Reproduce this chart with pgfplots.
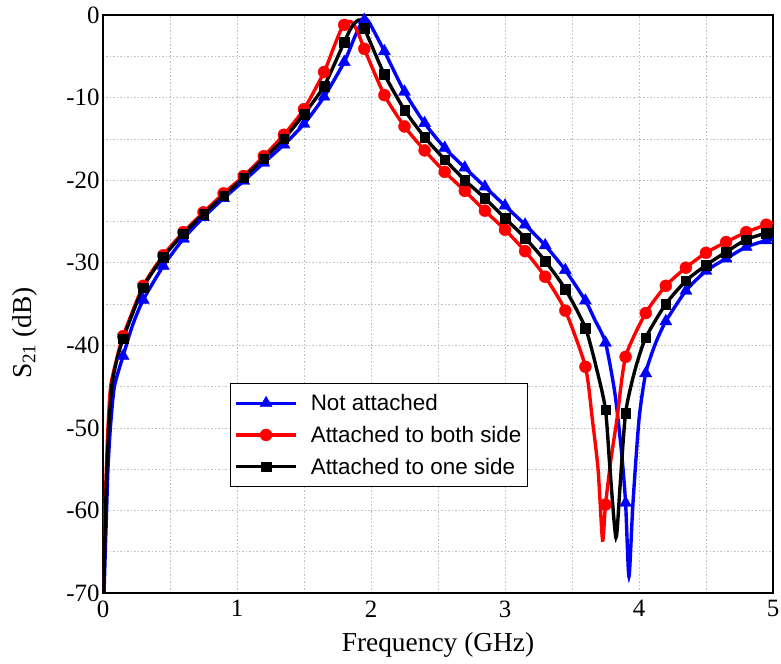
\documentclass[border=0pt]{standalone}
\usepackage{fontspec}
\setmainfont{Liberation Serif}
\newfontfamily\legendfont{Liberation Sans}
\usepackage{pgfplots}
\usepackage{pgfplotstable}
\pgfplotsset{compat=1.18}

% ---------- S21 curves (dense samples for the lines) ----------
\pgfplotstableread{
x y
0.004 -72
0.017 -65
0.027 -60
0.037 -55
0.055 -50
0.085 -45
0.15 -41.3
0.22 -37.6
0.30 -34.5
0.45 -30.4
0.60 -27.1
0.75 -24.5
0.90 -22.2
1.05 -20.1
1.20 -17.9
1.35 -15.7
1.50 -13.2
1.65 -9.9
1.80 -5.7
1.88 -2.6
1.93 -0.9
1.96 -0.4
1.99 -1.0
2.03 -2.2
2.10 -4.4
2.25 -9.3
2.40 -13.1
2.55 -16.1
2.70 -18.5
2.85 -20.8
3.00 -23.1
3.15 -25.4
3.30 -27.9
3.45 -30.9
3.60 -34.6
3.67 -36.9
3.75 -39.7
3.82 -45.8
3.87 -53.0
3.90 -59.1
3.925 -68.0
3.955 -59.1
4.00 -49.0
4.05 -43.4
4.12 -39.9
4.20 -37.1
4.35 -33.4
4.50 -31.0
4.65 -29.5
4.80 -28.1
4.95 -27.3
5.00 -27.1
}\notattached

\pgfplotstableread{
x y
0.002 -72
0.010 -65
0.015 -60
0.025 -55
0.037 -50
0.057 -45
0.10 -41.8
0.15 -38.9
0.30 -32.8
0.45 -29.1
0.60 -26.3
0.75 -23.9
0.90 -21.6
1.05 -19.5
1.20 -17.1
1.35 -14.5
1.50 -11.4
1.65 -6.9
1.72 -4.0
1.77 -2.0
1.80 -1.2
1.83 -0.8
1.86 -0.9
1.90 -2.0
1.95 -4.1
2.10 -9.7
2.25 -13.5
2.40 -16.4
2.55 -19.0
2.70 -21.3
2.85 -23.7
3.00 -26.0
3.15 -28.6
3.30 -31.7
3.45 -35.8
3.60 -42.6
3.652 -49.0
3.695 -55.1
3.728 -63.6
3.75 -59.3
3.79 -53.9
3.835 -49.0
3.90 -41.4
4.05 -36.1
4.20 -32.8
4.35 -30.6
4.50 -28.8
4.65 -27.5
4.80 -26.3
4.95 -25.4
5.00 -25.1
}\bothsides

\pgfplotstableread{
x y
0.002 -72
0.012 -65
0.019 -60
0.029 -55
0.043 -50
0.065 -45
0.10 -42.0
0.15 -39.2
0.30 -33.0
0.45 -29.3
0.60 -26.5
0.75 -24.1
0.90 -21.9
1.05 -19.7
1.20 -17.4
1.35 -15.0
1.50 -12.0
1.65 -8.6
1.80 -3.3
1.85 -1.6
1.89 -0.8
1.92 -0.6
1.95 -1.6
2.00 -3.5
2.10 -7.2
2.25 -11.5
2.40 -14.8
2.55 -17.5
2.70 -20.0
2.85 -22.2
3.00 -24.6
3.15 -27.0
3.30 -29.8
3.45 -33.2
3.60 -37.9
3.686 -43.0
3.75 -47.8
3.784 -55.1
3.828 -63.3
3.858 -57.2
3.90 -48.2
3.97 -43.0
4.05 -39.1
4.20 -35.0
4.35 -32.2
4.50 -30.3
4.65 -28.7
4.80 -27.2
4.95 -26.4
5.00 -26.1
}\oneside

% ---------- marker positions (every 0.15 GHz) ----------
\pgfplotstableread{
x a b c
0.15 -41.3 -38.9 -39.2
0.30 -34.5 -32.8 -33.0
0.45 -30.4 -29.1 -29.3
0.60 -27.1 -26.3 -26.5
0.75 -24.5 -23.9 -24.1
0.90 -22.2 -21.6 -21.9
1.05 -20.1 -19.5 -19.7
1.20 -17.9 -17.1 -17.4
1.35 -15.7 -14.5 -15.0
1.50 -13.2 -11.4 -12.0
1.65 -9.9 -6.9 -8.6
1.80 -5.7 -1.2 -3.3
1.95 -0.6 -4.1 -1.6
2.10 -4.4 -9.7 -7.2
2.25 -9.3 -13.5 -11.5
2.40 -13.1 -16.4 -14.8
2.55 -16.1 -19.0 -17.5
2.70 -18.5 -21.3 -20.0
2.85 -20.8 -23.7 -22.2
3.00 -23.1 -26.0 -24.6
3.15 -25.4 -28.6 -27.0
3.30 -27.9 -31.7 -29.8
3.45 -30.9 -35.8 -33.2
3.60 -34.6 -42.6 -37.9
3.75 -39.7 -59.3 -47.8
3.90 -59.1 -41.4 -48.2
4.05 -43.4 -36.1 -39.1
4.20 -37.1 -32.8 -35.0
4.35 -33.4 -30.6 -32.2
4.50 -31.0 -28.8 -30.3
4.65 -29.5 -27.5 -28.7
4.80 -28.1 -26.3 -27.2
4.95 -27.3 -25.4 -26.4
}\markers

\pgfplotsset{
  curve/.style={line width=3.4pt, smooth, tension=0.4, forget plot},
  blue marks/.style={blue, mark=triangle*, mark size=7pt, mark options={line width=0.4pt}},
  red marks/.style={red, mark=*, mark size=6pt, mark options={line width=0.4pt}},
  black marks/.style={black, mark=square*, mark size=4.8pt, mark options={line width=0.4pt}},
}

\begin{document}
\begin{tikzpicture}
\useasboundingbox (-103bp,-71bp) rectangle (678bp,593bp);
\begin{axis}[
  scale only axis,
  width=670bp, height=578bp,
  xmin=0, xmax=5, ymin=-70, ymax=0,
  xtick={0,1,...,5},
  ytick={-70,-60,...,0},
  minor x tick num=1, minor y tick num=1,
  grid=both,
  major grid style={gray!50, line width=0.6pt, dash pattern=on 1.5pt off 2pt},
  minor grid style={gray!50, line width=0.6pt, dash pattern=on 1.5pt off 2pt},
  major tick length=0pt, minor tick length=0pt,
  axis line style={line width=1.3pt},
  /pgf/number format/assume math mode=true,
  tick label style={font=\fontsize{25}{28}\selectfont},
  xticklabel style={yshift=-4bp},
  xlabel={Frequency (GHz)},
  ylabel={S\textsubscript{21} (dB)},
  every axis x label/.style={at={(axis description cs:0.5,-0.09)}, anchor=center, font=\fontsize{27.5}{30}\selectfont},
  every axis y label/.style={at={(axis description cs:-0.117,0.45)}, rotate=90, anchor=center, font=\fontsize{27.5}{30}\selectfont},
  legend style={
    at={(rel axis cs:0.1896,0.3633)}, anchor=north west,
    draw=black, line width=0.8pt, fill=white,
    font=\legendfont\fontsize{22.5}{26}\selectfont,
    inner xsep=4pt, inner ysep=9pt, row sep=10bp,
    /tikz/every odd column/.append style={column sep=11bp},
  },
  legend cell align=left,
  legend image code/.code={%
    \draw[mark repeat=2, mark phase=2, #1]
      plot coordinates {(0bp,0bp) (30bp,0bp) (60bp,0bp)};},
]
\addplot[blue, curve] table[x=x, y=y] {\notattached};
\addplot[blue marks, only marks, forget plot] table[x=x, y=a] {\markers};

\addplot[red, curve] table[x=x, y=y] {\bothsides};
\addplot[red marks, only marks, forget plot] table[x=x, y=b] {\markers};

\addplot[black, curve] table[x=x, y=y] {\oneside};
\addplot[black marks, only marks, forget plot] table[x=x, y=c] {\markers};

\addlegendimage{blue marks, line width=3.4pt}
\addlegendentry{Not attached}
\addlegendimage{red marks, line width=3.4pt}
\addlegendentry{Attached to both side}
\addlegendimage{black marks, line width=3.4pt}
\addlegendentry{Attached to one side}
\end{axis}
\end{tikzpicture}
\end{document}
